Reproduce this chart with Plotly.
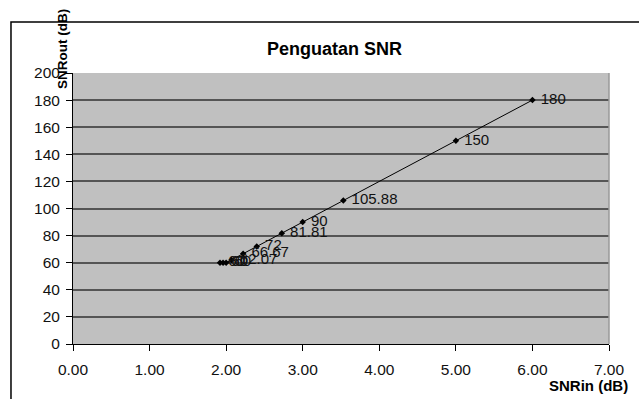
import plotly.graph_objects as go

snr_in = [1.92, 1.96, 2.00, 2.07, 2.222, 2.40, 2.727, 3.00, 3.53, 5.00, 6.00]
snr_out = [60, 60, 60, 62.07, 66.67, 72, 81.81, 90, 105.88, 150, 180]
labels = ["60", "60", "60", "62.07", "66.67", "72", "81.81", "90", "105.88", "150", "180"]

x_ticks = [0, 1, 2, 3, 4, 5, 6, 7]
y_ticks = list(range(0, 201, 20))

FONT = "Liberation Sans, Arial, sans-serif"

fig = go.Figure()
fig.add_trace(go.Scatter(
    x=snr_in, y=snr_out, mode="lines+markers+text",
    text=[" " + t for t in labels], textposition="middle right",
    textfont=dict(family=FONT, size=15, color="#111111"),
    line=dict(color="black", width=1),
    marker=dict(symbol="diamond", size=5, color="black"),
    cliponaxis=False, showlegend=False,
))

fig.update_layout(
    width=639, height=399,
    margin=dict(l=73, r=30, t=73, b=55),
    paper_bgcolor="white", plot_bgcolor="#c0c0c0",
    font=dict(family=FONT, size=15, color="#111111"),
    xaxis=dict(range=[0, 7], tickvals=x_ticks, tickformat=".2f",
               showgrid=False, zeroline=False, showline=True, linecolor="black",
               linewidth=1, ticks="outside", ticklen=6, tickcolor="black",
               ticklabelstandoff=5, tickfont=dict(size=15.5)),
    yaxis=dict(range=[0, 200], tickvals=y_ticks, showgrid=True,
               gridcolor="#555555", gridwidth=1.5, zeroline=False,
               showline=True, linecolor="black", linewidth=1,
               ticks="outside", ticklen=6, tickcolor="black",
               ticklabelstandoff=3, tickfont=dict(size=15.5)),
    shapes=[
        dict(type="rect", xref="paper", yref="paper", x0=-0.1157, x1=1.2,
             y0=-0.4, y1=1.188, line=dict(color="black", width=1.5),
             fillcolor="rgba(0,0,0,0)", layer="below"),
        dict(type="line", xref="paper", yref="paper", x0=1, x1=1, y0=0, y1=1,
             line=dict(color="#999999", width=1.5)),
    ],
    annotations=[
        dict(text="<b>Penguatan SNR</b>", xref="paper", yref="paper",
             x=(334 - 73) / 536, y=(344 - 49) / 271, xanchor="center",
             yanchor="middle", showarrow=False,
             font=dict(family=FONT, size=18, color="black")),
        dict(text="<b>SNRout (dB)</b>", xref="paper", yref="paper",
             x=(62 - 73) / 536, y=(344 - 49) / 271, xanchor="center",
             yanchor="middle", textangle=-90, showarrow=False,
             font=dict(family=FONT, size=13.5, color="black")),
        dict(text="<b>SNRin (dB)</b>", xref="paper", yref="paper",
             x=(547 - 73) / 536, y=(344 - 385) / 271, xanchor="left",
             yanchor="middle", showarrow=False,
             font=dict(family=FONT, size=15, color="black")),
    ],
)

fig.write_html("out.html")
